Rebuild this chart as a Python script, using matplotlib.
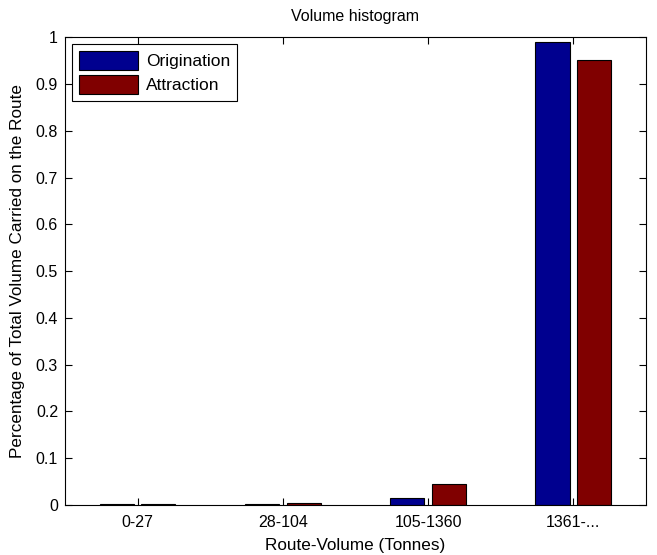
import numpy as np
import matplotlib.pyplot as plt

plt.rcParams['font.family'] = ['Liberation Sans', 'DejaVu Sans']

categories = ['0-27', '28-104', '105-1360', '1361-...']
origination = [0.003, 0.003, 0.014, 0.989]
attraction = [0.003, 0.005, 0.046, 0.951]

fig = plt.figure(figsize=(6.57, 5.55), dpi=100)
ax = fig.add_axes([0.099, 0.090, 0.884, 0.843])

x = np.arange(1, len(categories) + 1)
w = 0.235
ax.bar(x - 0.143, origination, w, color='#00008f', edgecolor='black', linewidth=0.8, label='Origination')
ax.bar(x + 0.143, attraction, w, color='#800000', edgecolor='black', linewidth=0.8, label='Attraction')

ax.set_xlim(0.5, 4.5)
ax.set_ylim(0, 1)
ax.set_xticks(x)
ax.set_xticklabels(categories)
ax.set_yticks(np.arange(0, 1.01, 0.1))
ax.set_yticklabels(['0'] + [f'{v:.1f}' for v in np.arange(0.1, 0.95, 0.1)] + ['1'])
ax.tick_params(direction='in', top=True, right=True, labelsize=11.5, length=5)
ax.tick_params(axis='x', pad=7)
ax.tick_params(axis='y', pad=5)
for s in ax.spines.values():
    s.set_linewidth(0.8)

ax.set_title('Volume histogram', fontsize=11.5, pad=12)
ax.set_xlabel('Route-Volume (Tonnes)', fontsize=12.3, labelpad=6)
ax.set_ylabel('Percentage of Total Volume Carried on the Route', fontsize=12.3, labelpad=8)

leg = ax.legend(loc='upper left', fontsize=12.5, fancybox=False, framealpha=1,
                edgecolor='black', borderaxespad=0.4, handlelength=3.4,
                handleheight=1.3, labelspacing=0.3, handletextpad=0.45,
                borderpad=0.4)
leg.get_frame().set_linewidth(0.8)

fig.savefig('out.png', dpi=100)
